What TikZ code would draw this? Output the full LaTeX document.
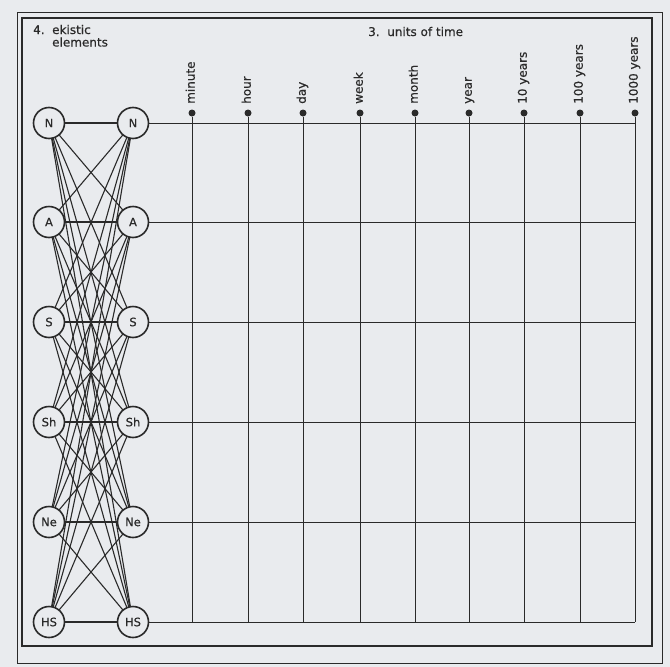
\documentclass[tikz,border=0pt]{standalone}
\usepackage{fontspec}
\setmainfont{DejaVu Sans}
\newfontfamily\lbl[FakeBold=0.6]{DejaVu Sans}
\definecolor{paper}{RGB}{233,235,238}
\definecolor{ink}{RGB}{42,42,42}
\begin{document}
\begin{tikzpicture}[x=1pt,y=-1pt,
  ink/.style={draw=ink},
  elem/.style={circle,draw=ink,line width=1.6pt,fill=paper,minimum size=31pt,inner sep=0pt,font=\lbl\fontsize{11.5}{12}\selectfont,text=ink},
  link/.style={draw=ink,line width=1.1pt},
  grid/.style={draw=ink,line width=1pt},
  tdot/.style={circle,fill=ink,inner sep=0pt,minimum size=7pt},
  tlabel/.style={rotate=90,anchor=mid west,inner sep=0pt,font=\lbl\fontsize{12}{13}\selectfont,text=ink},
  hdr/.style={anchor=base west,inner sep=0pt,font=\lbl\fontsize{12}{13}\selectfont,text=ink,align=left}]
\fill[paper] (0,0) rectangle (670,667);
\useasboundingbox (0,0) rectangle (670,667);
% frames
\draw[ink,line width=1pt] (17,12) rectangle (662,663);
\draw[ink,line width=1.7pt] (22,18) rectangle (652,646);
% headers
\node[hdr] (h4) at (33,34) {4.};
\node[hdr] (h4a) at (52,34) {ekistic};
\node[hdr] (h4b) at (52,46.5) {elements};
\node[hdr] (h3) at (368,36) {3.\ \ units of time};
% time columns
\foreach \x/\t [count=\j] in {192/minute,248/hour,303/day,360/week,415/month,469/year,524/10 years,580/100 years,635/1000 years}{
  \node[tdot] (d\j) at (\x,113) {};
  \node[tlabel] (t\j) at (\x,104) {\t};
}
% element node positions
\foreach \n/\y [count=\i] in {N/123,A/222,S/322,Sh/422,Ne/522,HS/622}{
  \coordinate (cl\i) at (49,\y);
  \coordinate (cr\i) at (133,\y);
}
% grid
\foreach \j in {1,...,9}{
  \draw[grid] (d\j) -- (d\j |- cr6);
}
\foreach \i in {1,...,6}{
  \draw[grid] (cr\i) -- (cr\i -| d9);
}
% bipartite links
\foreach \i in {1,...,6}{
  \foreach \k in {1,...,6}{
    \draw[link] (cl\i) -- (cr\k);
  }
}
\foreach \n/\y [count=\i] in {N/123,A/222,S/322,Sh/422,Ne/522,HS/622}{
  \node[elem] (L\i) at (cl\i) {\n};
  \node[elem] (R\i) at (cr\i) {\n};
}
\end{tikzpicture}
\end{document}
